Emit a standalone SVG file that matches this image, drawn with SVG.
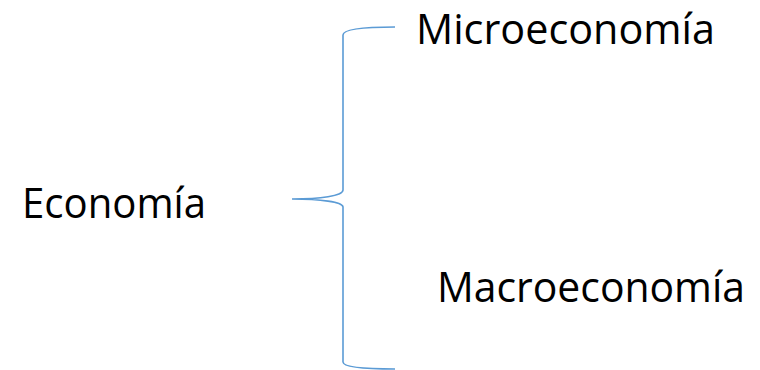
<svg xmlns="http://www.w3.org/2000/svg" width="760" height="370" viewBox="0 0 760 370">
<style>
.t{font-family:"Open Sans","Liberation Sans",sans-serif;font-size:42px;fill:#000}
.b{fill:none;stroke:#5B9BD5;stroke-width:1.6}
</style>
<rect width="760" height="370" fill="#fff"/>
<g id="connectors">
<path class="b" d="M395,27 C365,27 343,29 343,35 V190 C343,196 320,199 292,199 C320,199 343,202 343,207 V362 C343,367 365,369 395,369"/>
</g>
<g id="economia"><text class="t" x="22" y="218" textLength="184" lengthAdjust="spacingAndGlyphs">Economía</text></g>
<g id="microeconomia"><text class="t" x="416" y="44" font-size="41" textLength="299" lengthAdjust="spacingAndGlyphs">Microeconomía</text></g>
<g id="macroeconomia"><text class="t" x="437" y="302" textLength="308" lengthAdjust="spacingAndGlyphs">Macroeconomía</text></g>
</svg>
